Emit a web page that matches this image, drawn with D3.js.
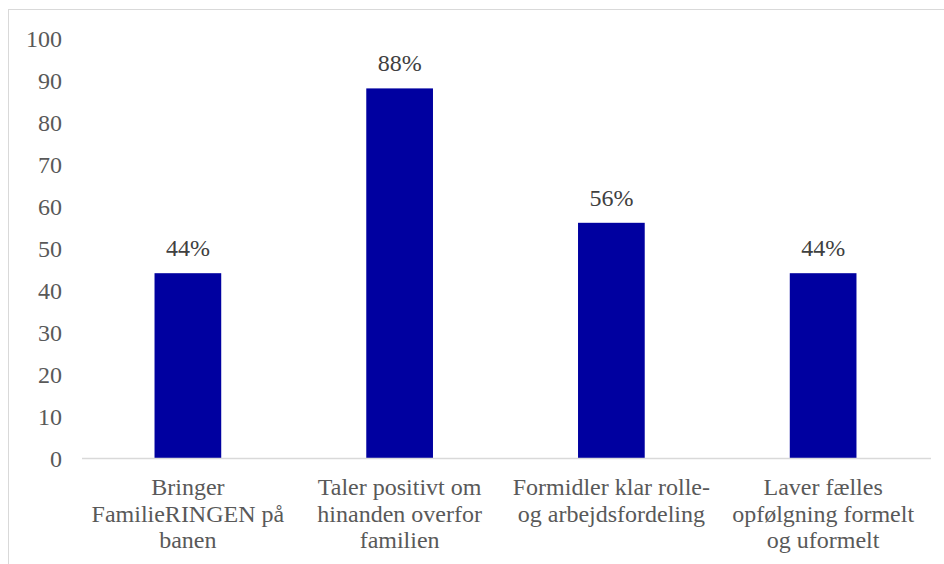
<!DOCTYPE html>
<html>
<head>
<meta charset="utf-8">
<script src="https://cdn.jsdelivr.net/npm/d3@7"></script>
<style>
  body { margin: 0; background: #fff; }
</style>
</head>
<body>
<svg id="chart" width="944" height="564" font-family="Liberation Serif"></svg>
<script>
// Categories (already split in lines like the original)
const categories = [
    ['Bringer', 'FamilieRINGEN på', 'banen'],
    ['Taler positivt om', 'hinanden overfor', 'familien'],
    ['Formidler klar rolle-', 'og arbejdsfordeling'],
    ['Laver fælles', 'opfølgning formelt', 'og uformelt'],
]
const values = [44, 88, 56, 44]
const yTicks = [0, 10, 20, 30, 40, 50, 60, 70, 80, 90, 100]

const FONT = 'Liberation Serif'
const FONT_SIZE = 24

const svg = d3.select('#chart')
const margin = { left: 82, right: 15, top: 38, bottom: 106 }
const width = 944, height = 564

// Chart border
svg.append('rect')
    .attr('x', 8.5).attr('y', 9.5)
    .attr('width', 944).attr('height', 564)
    .attr('fill', 'none')
    .attr('stroke', '#d9d9d9')

const x = d3.scaleBand()
    .domain(d3.range(categories.length))
    .range([margin.left, width - margin.right])
    .paddingInner(0.685)
    .paddingOuter(0.3425)

const y = d3.scaleLinear()
    .domain([0, 100])
    .range([height - margin.bottom, margin.top])

// Y axis labels only (no line, no ticks)
const yAxis = svg.append('g')
    .attr('transform', `translate(${margin.left - 20},0)`)
    .call(d3.axisLeft(y).tickValues(yTicks).tickSize(0).tickPadding(0))
yAxis.attr('font-family', FONT).attr('font-size', FONT_SIZE)
yAxis.select('.domain').remove()
yAxis.selectAll('text')
    .attr('fill', '#595959')
    .attr('dy', '0.34em')

// Bars
svg.append('g').selectAll('rect')
    .data(values)
    .join('rect')
    .attr('x', (d, i) => x(i))
    .attr('y', d => y(d))
    .attr('width', x.bandwidth())
    .attr('height', d => y(0) - y(d))
    .attr('fill', '#0000a0')

// Value labels
svg.append('g').selectAll('text')
    .data(values)
    .join('text')
    .attr('x', (d, i) => x(i) + x.bandwidth() / 2)
    .attr('y', d => y(d) - 17)
    .attr('text-anchor', 'middle')
    .attr('font-size', FONT_SIZE)
    .attr('font-family', FONT)
    .attr('fill', '#404040')
    .text(d => d + '%')

// X axis baseline
svg.append('line')
    .attr('x1', margin.left).attr('x2', width - margin.right + 2)
    .attr('y1', y(0) + 0.5).attr('y2', y(0) + 0.5)
    .attr('stroke', '#d9d9d9')
    .attr('stroke-width', 1.5)

// Category labels
const catG = svg.append('g').selectAll('text')
    .data(categories)
    .join('text')
    .attr('text-anchor', 'middle')
    .attr('font-size', FONT_SIZE)
    .attr('font-family', FONT)
    .attr('fill', '#595959')
catG.selectAll('tspan')
    .data((d, i) => d.map(line => ({ line, i })))
    .join('tspan')
    .attr('x', d => x(d.i) + x.bandwidth() / 2)
    .attr('y', (d, j) => 495 + j * 26.5)
    .text(d => d.line)
</script>
</body>
</html>
